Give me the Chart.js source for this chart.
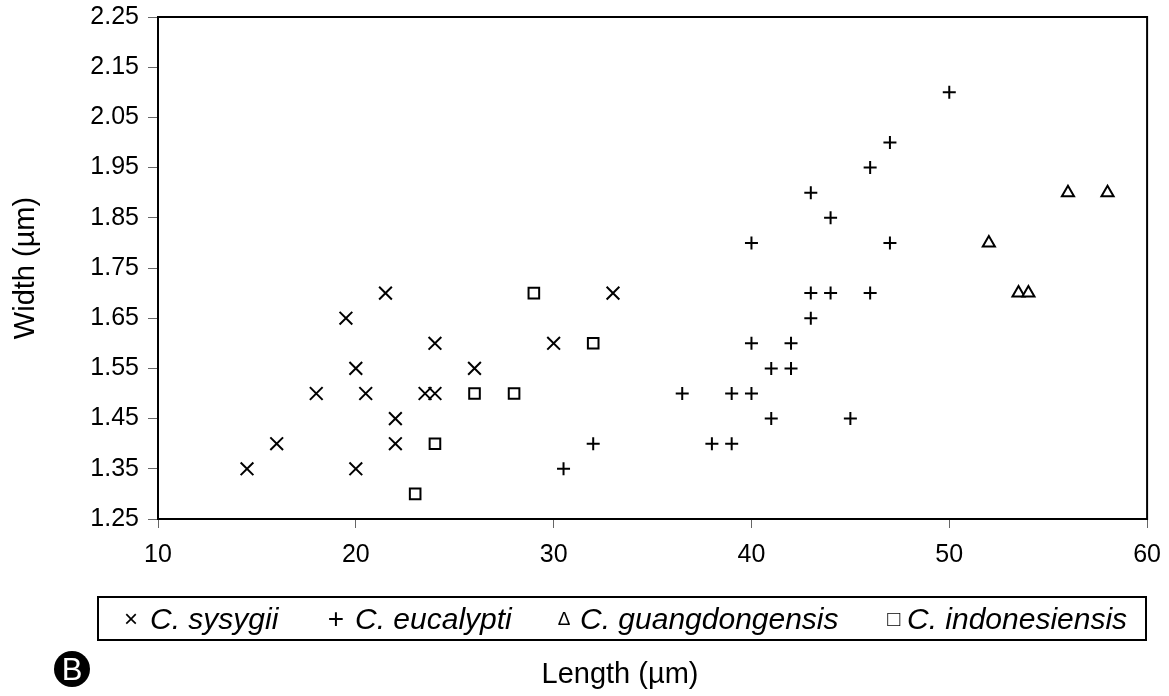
<!DOCTYPE html>
<html><head><meta charset="utf-8">
<script src="https://cdn.jsdelivr.net/npm/chart.js@4.4.1/dist/chart.umd.min.js"></script>
<style>
html,body{margin:0;padding:0;background:#fff;}
#wrap{position:relative;width:1169px;height:696px;overflow:hidden;font-family:"Liberation Sans",Arial,sans-serif;color:#000;}
#c{position:absolute;left:0;top:0;}
#legend{position:absolute;left:97px;top:596px;width:1050px;height:45px;border:2px solid #000;box-sizing:border-box;}
.txt{position:absolute;top:0;height:41px;line-height:41px;font-size:30px;font-style:italic;white-space:nowrap;}
.sym{position:absolute;top:0;height:41px;line-height:41px;white-space:nowrap;transform:translateX(-50%);}
#xtitle{position:absolute;left:470px;width:300px;text-align:center;top:655px;font-size:29px;line-height:36px;}
#badge{position:absolute;left:54px;top:651px;width:36px;height:36px;border-radius:50%;background:#000;color:#fff;font-size:31px;line-height:37px;text-align:center;}
</style></head>
<body><div id="wrap">
<canvas id="c" width="1169" height="696"></canvas>
<div id="legend">
  <span class="sym" style="left:32px;font-size:24px">×</span><span class="txt" style="left:51px">C. sysygii</span>
  <span class="sym" style="left:237px;font-size:28px">+</span><span class="txt" style="left:256px">C. eucalypti</span>
  <span class="sym" style="left:465px;font-size:19px">∆</span><span class="txt" style="left:481px">C. guangdongensis</span>
  <span class="sym" style="left:795px;font-size:22px">□</span><span class="txt" style="left:808px">C. indonesiensis</span>
</div>
<div id="xtitle">Length (µm)</div>
<div id="badge">B</div>
</div>
<script>
// C. sysygii
const sysygiiX = [14.5, 16, 18, 19.5, 20, 20, 20.5, 21.5, 22, 22, 23.5, 24, 24, 26, 30, 33];
const sysygiiY = [1.35, 1.40, 1.50, 1.65, 1.55, 1.35, 1.50, 1.70, 1.45, 1.40, 1.50, 1.50, 1.60, 1.55, 1.60, 1.70];
// C. eucalypti
const eucalyptiX = [30.5, 32, 36.5, 38, 39, 39, 40, 40, 40, 41, 41, 42, 42, 43, 43, 43, 44, 44, 45, 46, 46, 47, 47, 50];
const eucalyptiY = [1.35, 1.40, 1.50, 1.40, 1.40, 1.50, 1.50, 1.60, 1.80, 1.45, 1.55, 1.55, 1.60, 1.65, 1.70, 1.90, 1.70, 1.85, 1.45, 1.70, 1.95, 1.80, 2.00, 2.10];
// C. guangdongensis
const guangX = [52, 53.5, 54, 56, 58];
const guangY = [1.80, 1.70, 1.70, 1.90, 1.90];
// C. indonesiensis
const indoX = [23, 24, 26, 28, 29, 32];
const indoY = [1.30, 1.40, 1.50, 1.50, 1.70, 1.60];

const xTicks = [10, 20, 30, 40, 50, 60];
const yTicks = [1.25, 1.35, 1.45, 1.55, 1.65, 1.75, 1.85, 1.95, 2.05, 2.15, 2.25];

const pts = (xs, ys) => xs.map((x, i) => ({x: x, y: ys[i]}));

const frame = {
  id: 'frame',
  afterDatasetsDraw(chart) {
    const a = chart.chartArea, ctx = chart.ctx;
    ctx.save();
    ctx.strokeStyle = '#000';
    ctx.lineWidth = 2;
    ctx.strokeRect(a.left, a.top, a.right - a.left, a.bottom - a.top);
    ctx.restore();
  }
};

const FONT = "'Liberation Sans', Arial, sans-serif";
new Chart(document.getElementById('c'), {
  type: 'scatter',
  data: {
    datasets: [
      {label: 'C. sysygii', data: pts(sysygiiX, sysygiiY), pointStyle: 'crossRot', pointRadius: 9, borderColor: '#000', borderWidth: 2, backgroundColor: 'transparent'},
      {label: 'C. eucalypti', data: pts(eucalyptiX, eucalyptiY), pointStyle: 'cross', pointRadius: 6.5, borderColor: '#000', borderWidth: 2, backgroundColor: 'transparent'},
      {label: 'C. guangdongensis', data: pts(guangX, guangY), pointStyle: 'triangle', pointRadius: 7, borderColor: '#000', borderWidth: 2, backgroundColor: '#fff'},
      {label: 'C. indonesiensis', data: pts(indoX, indoY), pointStyle: 'rect', pointRadius: 7.5, borderColor: '#000', borderWidth: 2, backgroundColor: '#fff'}
    ]
  },
  options: {
    responsive: false,
    animation: false,
    events: [],
    layout: {padding: {top: 17, right: 13, left: 0, bottom: 0}},
    plugins: {legend: {display: false}, tooltip: {enabled: false}},
    scales: {
      x: {
        type: 'linear', min: 10, max: 60,
        afterBuildTicks: s => { s.ticks = xTicks.map(v => ({value: v})); },
        afterFit: s => { s.height = 177; },
        border: {display: true, color: '#000', width: 2},
        grid: {drawOnChartArea: false, drawTicks: true, tickLength: 9, color: '#666', lineWidth: 1},
        ticks: {color: '#000', font: {family: FONT, size: 25, lineHeight: 1.5}, padding: 8, maxRotation: 0, autoSkip: false}
      },
      y: {
        type: 'linear', min: 1.25, max: 2.25,
        afterBuildTicks: s => { s.ticks = yTicks.map(v => ({value: v})); },
        afterFit: s => { s.width = 158; },
        border: {display: true, color: '#000', width: 2},
        grid: {drawOnChartArea: false, drawTicks: true, tickLength: 10, color: '#666', lineWidth: 1},
        ticks: {color: '#000', font: {family: FONT, size: 25, lineHeight: 0.6}, padding: 9, callback: v => v.toFixed(2), autoSkip: false},
        title: {display: true, text: 'Width (µm)', color: '#000', font: {family: FONT, size: 29}, padding: {top: 9, bottom: 0}}
      }
    }
  },
  plugins: [frame]
});
</script>
</body></html>
